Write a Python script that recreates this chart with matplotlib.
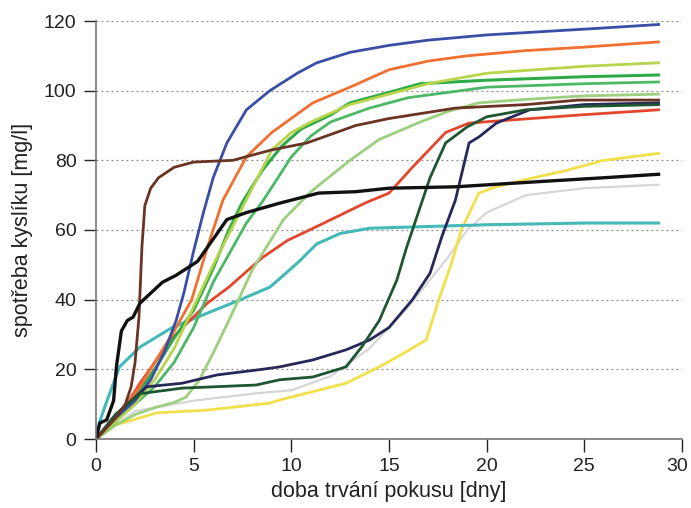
import matplotlib
matplotlib.use("Agg")
import matplotlib.pyplot as plt
import matplotlib.transforms as mtransforms
import numpy as np

plt.rcParams['font.family'] = ['Liberation Sans', 'DejaVu Sans']

# ---- data (days, oxygen consumption mg/l) ----
blue_x = [0, 1, 2, 2.8, 3.5, 4.1, 4.5, 5, 5.5, 6, 6.7, 7.7, 8.9, 10.3, 11.3, 13, 15, 17, 20, 23, 26, 28.8]
blue_y = [0, 6, 11, 17, 25, 34, 42, 54, 65, 75, 85, 94.5, 100, 105, 108, 111, 113, 114.5, 116, 117, 118, 119]

orange_x = [0, 1, 2.25, 3, 4, 4.9, 5.7, 6.5, 7.7, 9, 11.1, 13, 15, 17, 19, 22, 25, 28.8]
orange_y = [0, 6, 15, 22, 31, 40, 55, 68.6, 81, 88, 96.5, 101, 106, 108.5, 110, 111.5, 112.5, 114]

ygreen_x = [0, 1, 2, 3, 4, 5, 6, 7, 8, 9, 10, 11, 12, 13, 15, 17, 20, 25, 28.8]
ygreen_y = [0, 5, 10, 17, 26, 38, 50, 61, 72, 83, 88, 91, 93.5, 96, 99, 102, 105, 107, 108]

green1_x = [0, 1, 2, 3, 4, 5, 6, 6.8, 7.5, 8.5, 9.5, 10.5, 12, 13, 15, 16.6, 20, 25, 28.8]
green1_y = [0, 5, 12, 20, 29, 37, 49, 60, 68, 77, 84, 89, 93, 96.5, 99.5, 102, 103, 104, 104.5]

green2_x = [0, 1, 2, 3, 4, 5, 6, 7, 7.7, 8.5, 9.2, 10, 11, 12, 14, 16, 20, 25, 28.8]
green2_y = [0, 5, 10, 15, 22, 32, 45, 55, 62, 68, 74, 81, 87, 91, 95, 98, 101, 102, 102.5]

lgreen_x = [0, 1, 2, 3, 4, 4.6, 5.3, 6, 6.8, 8, 9.6, 11, 13, 14.5, 16.6, 18, 19.6, 22, 25, 28.8]
lgreen_y = [0, 4, 7, 9, 10.5, 12, 17, 24.7, 34, 48.5, 63, 71, 80, 86, 91, 94, 96.5, 97.5, 98.5, 99]

brown_x = [0, 1, 1.5, 1.8, 2.0, 2.2, 2.35, 2.5, 2.8, 3.2, 4, 5, 7, 9, 10.8, 13.3, 15, 18.4, 22, 24.7, 28.8]
brown_y = [0, 6, 10, 15, 22, 35, 55, 67, 72, 75, 78, 79.5, 80, 83, 85, 90, 92, 95, 96, 97.3, 97.3]

black_x = [0, 0.2, 0.55, 0.9, 1.05, 1.3, 1.6, 1.9, 2.25, 3.4, 4.1, 5.2, 5.7, 6.7, 7.7, 9.4, 11.4, 13.3, 15, 18.4, 23, 26, 28.8]
black_y = [0, 4.6, 5.5, 11, 21, 31, 34, 35, 39, 45, 47, 51, 55, 63, 65, 67.7, 70.6, 71, 72, 72.4, 74, 75, 76]

red_x = [0, 1, 2.25, 3.1, 3.9, 4.8, 5.7, 6.8, 8.5, 9.8, 11.3, 13.8, 15, 16.2, 17.9, 19.1, 21.3, 24.7, 28.8]
red_y = [0, 5, 16, 22.7, 29, 34, 39, 43.6, 52, 57, 61, 67.8, 70.6, 78, 88, 90.7, 91.6, 93, 94.5]

cyan_x = [0, 0.5, 1.2, 2.25, 3.9, 5.2, 7.4, 8.9, 9.6, 10.4, 11.3, 12.5, 14, 17, 20, 25, 28.8]
cyan_y = [2, 10, 20.7, 26.4, 32, 35, 40, 43.6, 47, 51, 56, 59, 60.5, 61, 61.5, 62, 62]

navy_x = [0, 1, 2.6, 4.4, 6.2, 8.5, 9.4, 11.1, 12.8, 14, 15, 16.2, 17.1, 17.7, 18.4, 19.1, 19.6, 20.5, 22.2, 25, 28.8]
navy_y = [0, 7, 15, 16, 18.4, 20, 20.7, 22.7, 25.6, 28.4, 32, 40, 47.6, 58, 68.6, 85, 86.7, 90.7, 94.5, 96, 96.5]

dgreen_x = [0, 1, 2.25, 4.4, 8.2, 9.4, 11.1, 12.8, 13.6, 14.5, 15.4, 15.9, 16.2, 17.1, 17.9, 19, 20, 22, 25, 28.8]
dgreen_y = [0, 7, 13, 14.6, 15.5, 17, 17.8, 20.7, 26.4, 34, 45.6, 55, 60, 75, 85, 89.6, 92.5, 94.5, 95.5, 96]

yellow_x = [0, 1, 3.1, 5.7, 8.9, 9.4, 12.8, 14.5, 15.4, 16.9, 17.6, 18.2, 18.7, 19.6, 20.5, 22, 24, 26, 28.8]
yellow_y = [0, 4, 7.5, 8.3, 10.3, 11.2, 16, 20.7, 23.5, 28.4, 40.8, 50.5, 60, 70.6, 72.4, 74.5, 77, 80, 82]

gray_x = [0, 2, 5, 8, 10, 12, 14, 16, 18, 19, 20, 22, 25, 28.8]
gray_y = [0, 8, 11, 13, 14, 18, 26, 38, 52, 60, 65, 70, 72, 73]

x_ticks = [0, 5, 10, 15, 20, 25, 30]
y_ticks = [0, 20, 40, 60, 80, 100, 120]

series = [
    (gray_x, gray_y, '#d6d6d6', 1.6),
    (yellow_x, yellow_y, '#f2e04a', 2.0),
    (cyan_x, cyan_y, '#45b8b8', 2.2),
    (red_x, red_y, '#e4462c', 2.0),
    (lgreen_x, lgreen_y, '#9ccf7e', 2.0),
    (green2_x, green2_y, '#4cb866', 2.0),
    (green1_x, green1_y, '#2eab48', 2.2),
    (ygreen_x, ygreen_y, '#b8d44a', 2.0),
    (orange_x, orange_y, '#ef7030', 2.0),
    (blue_x, blue_y, '#3a4ea6', 2.0),
    (navy_x, navy_y, '#27285a', 2.0),
    (dgreen_x, dgreen_y, '#1e5632', 2.0),
    (brown_x, brown_y, '#6b3324', 2.0),
    (black_x, black_y, '#111111', 2.4),
]

fig = plt.figure(figsize=(6.91, 5.08), dpi=100)
ax = fig.add_axes([96/691, 1-439/508, (682-96)/691, (439-21)/508])

for xs, ys, c, lw in series:
    ax.plot(xs, ys, color=c, lw=lw, solid_joinstyle='round')

ax.set_xlim(0, 30)
ax.set_ylim(0, 120)
ax.set_xticks(x_ticks)
ax.set_yticks(y_ticks)
for v in y_ticks[1:]:
    ax.axhline(v, color='#888888', lw=0.9, ls=(0, (1.5, 2.5)), zorder=0)

for s in ['top', 'right']:
    ax.spines[s].set_visible(False)
for s in ['left', 'bottom']:
    ax.spines[s].set_color('#777777')
    ax.spines[s].set_linewidth(1.2)

ax.tick_params(axis='both', direction='out', length=9, width=1.0, color='#222222',
               labelsize=14, labelcolor='#222222', pad=5)

# keep the last x tick label inside the canvas
last = ax.get_xticklabels()[-1]
last.set_transform(last.get_transform() + mtransforms.ScaledTranslation(-5/100, 0, fig.dpi_scale_trans))

ax.set_xlabel('doba trvání pokusu [dny]', fontsize=15.5, color='#222222', labelpad=4)
ax.set_ylabel('spotřeba kyslíku [mg/l]', fontsize=15.5, color='#222222', labelpad=8)

fig.savefig('out.png', dpi=100)
